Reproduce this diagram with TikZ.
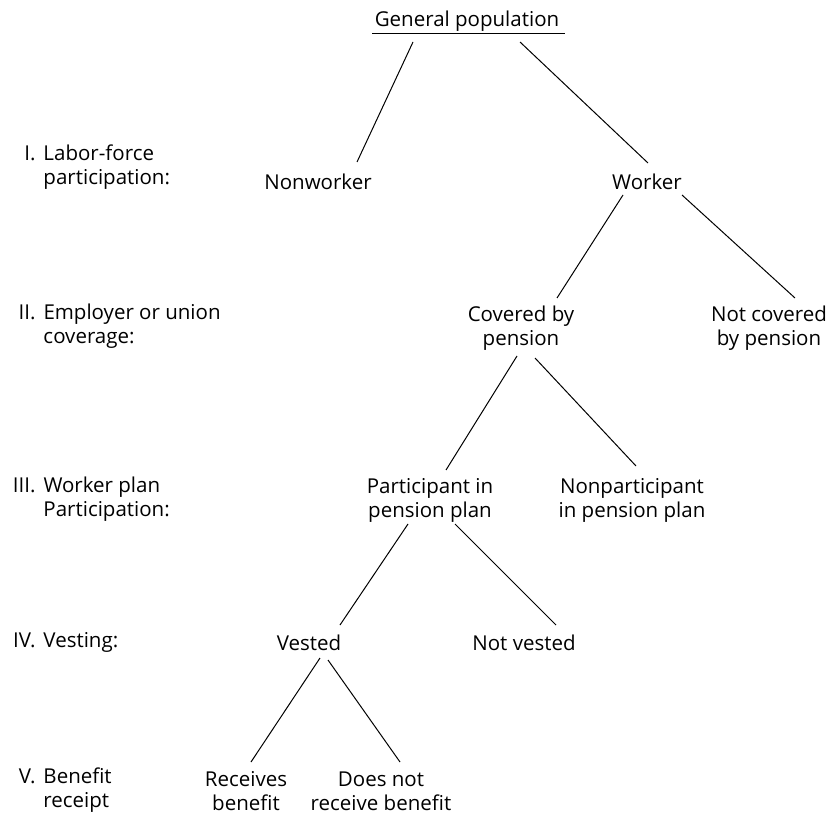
\documentclass[tikz,border=0pt]{standalone}
\usepackage{fontspec}
\setmainfont{Open Sans}
\usepackage{tikz}
\usetikzlibrary{positioning}

\newcommand{\lvltab}[2]{\begin{tabular}{@{}l@{}l@{}}\makebox[43pt][l]{\makebox[35pt][r]{#1}} & #2\end{tabular}}

\begin{document}
\begin{tikzpicture}[x=1pt,y=1pt,line width=1pt,
    every node/.style={inner sep=0pt,font=\fontsize{20.5}{24}\selectfont},
    box/.style={align=center},
    lvl/.style={anchor=west}]
    \useasboundingbox (0,0) rectangle (834,815);

    % levels on the left
    \node[lvl] (lvI)   at (0,647) {\lvltab{I.}{Labor-force\\ & participation:}};
    \node[lvl] (lvII)  at (0,488) {\lvltab{II.}{Employer or union\\ & coverage:}};
    \node[lvl] (lvIII) at (0,315) {\lvltab{III.}{Worker plan\\ & Participation:}};
    \node[lvl] (lvIV)  at (0,172) {\lvltab{IV.}{Vesting:}};
    \node[lvl] (lvV)   at (0,24)  {\lvltab{V.}{Benefit\\ & receipt}};

    % tree
    \node[box] (genpop)     at (467,794) {General population};
    \node[box] (nonworker)  at (318,633) {Nonworker};
    \node[box] (worker)     at (647,633) {Worker};
    \node[box] (covered)    at (521,487) {Covered by\\pension};
    \node[box] (notcovered) at (769,487) {Not covered\\by pension};
    \node[box] (particip)   at (430,315) {Participant in\\pension plan};
    \node[box] (nonpart)    at (632,315) {Nonparticipant\\in pension plan};
    \node[box] (vested)     at (309,172) {Vested};
    \node[box] (notvested)  at (524,172) {Not vested};
    \node[box] (receives)   at (246,24)  {Receives\\benefit};
    \node[box] (doesnot)    at (381,24)  {Does not\\receive benefit};

    % underline
    \draw ([shift={(-95,-13)}]genpop.center) -- ([shift={(98,-13)}]genpop.center);

    \draw ([shift={(-54,-21)}]genpop.center) -- ([shift={(39,20)}]nonworker.center);
    \draw ([shift={(53,-21)}]genpop.center) -- ([shift={(1,19)}]worker.center);
    \draw ([shift={(-24,-13)}]worker.center) -- ([shift={(36,30)}]covered.center);
    \draw ([shift={(35,-13)}]worker.center) -- ([shift={(26,30)}]notcovered.center);
    \draw ([shift={(-4,-28)}]covered.center) -- ([shift={(16,30)}]particip.center);
    \draw ([shift={(14,-30)}]covered.center) -- ([shift={(4,34)}]nonpart.center);
    \draw ([shift={(-22,-24)}]particip.center) -- ([shift={(31,18)}]vested.center);
    \draw ([shift={(25,-24)}]particip.center) -- ([shift={(32,18)}]notvested.center);
    \draw ([shift={(11,-15)}]vested.center) -- ([shift={(5,29)}]receives.center);
    \draw ([shift={(19,-17)}]vested.center) -- ([shift={(19,29)}]doesnot.center);
\end{tikzpicture}
\end{document}
